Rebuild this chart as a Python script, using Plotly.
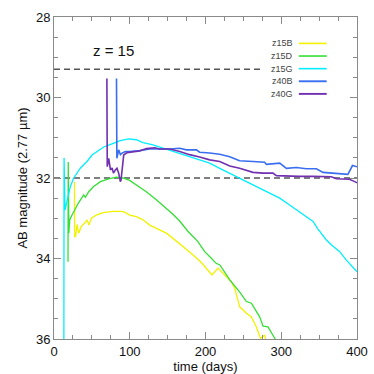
import plotly.graph_objects as go

# ---- data ----
series_names = ["z15B", "z15D", "z15G", "z40B", "z40G"]
series_colors = ["#f2f200", "#33e033", "#00eeff", "#3a6ef0", "#7030b0"]
series_widths = [1.3, 1.3, 1.3, 1.6, 1.6]

z15B_days = [27.0, 27.4, 28.6, 30.4, 32.6, 36.1, 40.5, 43.6, 46.2, 49.3, 55.9, 64.7, 77.9, 88.9, 93.3,
             99.9, 108.7, 117.5, 126.3, 139.5, 148.3, 157.1, 168, 181, 194.5, 203.3, 208.6, 216.5,
             225.3, 234.2, 238.6, 245.2, 254, 260.6, 267.2, 272.5, 276, 278, 280, 284]
z15B_mag = [32.1, 33.46, 33.45, 33.15, 33.37, 33.2, 33.12, 33.04, 33.17, 33.0, 32.92, 32.86, 32.83, 32.83,
            32.85, 32.92, 32.96, 33.04, 33.17, 33.29, 33.37, 33.5, 33.66, 33.87, 34.1, 34.29, 34.41,
            34.24, 34.41, 34.58, 34.74, 35.2, 35.36, 35.45, 35.7, 35.98, 35.94, 35.9, 36.05, 36.3]

z15D_days = [18.5, 18.8, 19.6, 20.7, 23.8, 28.3, 32.6, 39.2, 41.4, 45.8, 52.4, 61.3, 72.2, 82.3, 91,
             99.9, 108.7, 121.9, 135.1, 148.3, 157, 165, 177, 190, 199, 208, 214, 219, 232, 245, 254,
             260.6, 271.5, 276, 282.5, 291.4, 296]
z15D_mag = [34.08, 31.6, 33.37, 33.04, 32.92, 32.75, 32.61, 32.42, 32.48, 32.34, 32.21, 32.09, 32.02,
            31.98, 32.0, 32.06, 32.17, 32.34, 32.54, 32.75, 32.9, 33.05, 33.33, 33.58, 33.83, 34.0,
            34.12, 34.16, 34.53, 34.83, 35.07, 35.11, 35.45, 35.68, 35.7, 35.98, 36.15]

z15G_days = [13.0, 13.3, 14.5, 17.2, 21.6, 26, 32.6, 35, 39.2, 43.6, 50.2, 56.8, 65.6, 76.6, 87.6,
             98.6, 108.7, 117.5, 130.7, 143.9, 157, 170.3, 188, 205.5, 218.8, 232, 240.8, 249.5,
             262.7, 280.4, 298, 311, 324.5, 333.3, 342, 348.5, 359.6, 366, 377.2, 386, 400]
z15G_mag = [36.5, 31.5, 32.8, 32.54, 32.21, 32.0, 31.8, 31.75, 31.67, 31.59, 31.43, 31.34, 31.23,
            31.15, 31.07, 31.03, 31.05, 31.12, 31.18, 31.26, 31.34, 31.42, 31.51, 31.63, 31.76,
            31.88, 31.98, 32.05, 32.17, 32.34, 32.5, 32.67, 32.84, 32.96, 33.08, 33.27, 33.54,
            33.66, 33.83, 34.04, 34.33]

z40B_days = [82.5, 83.0, 85.4, 87.6, 89.8, 94.3, 100, 113, 126.3, 139.5, 152.8, 166, 174.8, 188,
             192.3, 205.5, 218.8, 232, 245, 262.7, 278, 280.4, 298, 306.8, 320, 333, 346.4, 355.1,
             368.3, 386, 388, 394, 400]
z40B_mag = [29.53, 31.51, 31.3, 31.42, 31.38, 31.34, 31.34, 31.32, 31.28, 31.28, 31.28, 31.26, 31.3,
            31.3, 31.36, 31.38, 31.41, 31.47, 31.57, 31.59, 31.61, 31.66, 31.63, 31.76, 31.74,
            31.77, 31.77, 31.86, 31.88, 31.9, 31.91, 31.69, 31.72]

z40G_days = [69.8, 70.3, 72.2, 74.5, 76.7, 78.5, 81, 83.1, 85.4, 87.6, 88.5, 92, 96.4, 105.2, 113,
             121.9, 128.5, 133, 139.5, 152.8, 166, 179, 192.3, 205.5, 218.8, 232, 245, 262.7, 276,
             289, 293.6, 311, 324, 342, 355, 366, 372.8, 386, 390, 397, 400]
z40G_mag = [29.53, 31.72, 31.51, 31.8, 31.75, 31.88, 31.8, 31.76, 31.88, 32.09, 32.05, 31.43, 31.37,
            31.34, 31.33, 31.27, 31.25, 31.25, 31.28, 31.28, 31.34, 31.42, 31.48, 31.55, 31.59,
            31.7, 31.76, 31.86, 31.88, 31.88, 31.94, 31.96, 31.96, 31.96, 31.96, 31.97, 32.02,
            32.02, 32.03, 32.09, 32.12]

threshold_mag = [29.3, 32.0]
threshold_end = [275, 400]

x_ticks = [0, 100, 200, 300, 400]
y_ticks = [28, 30, 32, 34, 36]
panel_label = "z = 15"
x_title = "time (days)"
y_title = "AB magnitude (2.77 µm)"

series_days = [z15B_days, z15D_days, z15G_days, z40B_days, z40G_days]
series_mags = [z15B_mag, z15D_mag, z15G_mag, z40B_mag, z40G_mag]

FONT = "Liberation Sans, Arial, Helvetica, sans-serif"
AXIS_GRAY = "#8a8a8a"

fig = go.Figure()

for mag, xend in zip(threshold_mag, threshold_end):
    fig.add_trace(go.Scatter(x=[0, xend], y=[mag, mag], mode="lines",
                             line=dict(color="#555555", width=1.5, dash="6px,4px"),
                             showlegend=False, hoverinfo="skip"))

for name, col, w, xs, ys in zip(series_names, series_colors, series_widths, series_days, series_mags):
    fig.add_trace(go.Scatter(x=xs, y=ys, mode="lines", name=name,
                             line=dict(color=col, width=w), showlegend=False))

# legend drawn IDL-style: label on the left, line sample on the right
row0, step = 0.918, 0.0392
for i, (name, col, w) in enumerate(zip(series_names, series_colors, series_widths)):
    yy = row0 - i * step
    fig.add_annotation(xref="paper", yref="paper", x=0.795, y=yy, text=name, showarrow=False,
                       xanchor="right", yanchor="middle",
                       font=dict(family=FONT, size=9, color="#444444"))
    fig.add_shape(type="line", xref="paper", yref="paper", x0=0.808, x1=0.9, y0=yy, y1=yy,
                  line=dict(color=col, width=w + 0.3))

fig.add_annotation(x=78, y=28.84, text=panel_label, showarrow=False, xanchor="center",
                   yanchor="middle", font=dict(family=FONT, size=15, color="#111111"))

# y-axis title placed as rotated text left of the tick labels
fig.add_annotation(xref="paper", yref="paper", x=-0.107, y=0.5, text=y_title, showarrow=False,
                   textangle=-90, xanchor="center", yanchor="middle",
                   font=dict(family=FONT, size=13, color="#111111"))

axis_common = dict(showline=True, linecolor=AXIS_GRAY, linewidth=1, mirror="ticks",
                   ticks="inside", tickcolor=AXIS_GRAY, ticklen=7, tickwidth=1,
                   showgrid=False, zeroline=False, automargin=False,
                   tickfont=dict(family=FONT, size=13, color="#111111"),
                   title_font=dict(family=FONT, size=13, color="#111111"))

fig.update_xaxes(range=[0, 400], tickvals=x_ticks, ticktext=[str(v) for v in x_ticks],
                 title_text=x_title, title_standoff=2,
                 minor=dict(ticks="inside", dtick=25, ticklen=4, tickcolor=AXIS_GRAY),
                 **axis_common)
fig.update_yaxes(range=[36, 28], tickvals=y_ticks, ticktext=[str(v) for v in y_ticks],
                 minor=dict(ticks="inside", dtick=0.5, ticklen=4, tickcolor=AXIS_GRAY),
                 **axis_common)

fig.update_layout(width=374, height=374, margin=dict(l=54, r=17, t=17, b=35),
                  plot_bgcolor="white", paper_bgcolor="white", showlegend=False,
                  font=dict(family=FONT))

post = ("document.body.style.margin='0';document.body.style.padding='0';"
        "document.body.style.overflow='hidden';"
        "var gd=document.getElementById('{plot_id}');"
        "Plotly.relayout(gd,{width:374,height:374});")

fig.write_html("out.html", post_script=post,
               config={"responsive": False, "displayModeBar": False})
